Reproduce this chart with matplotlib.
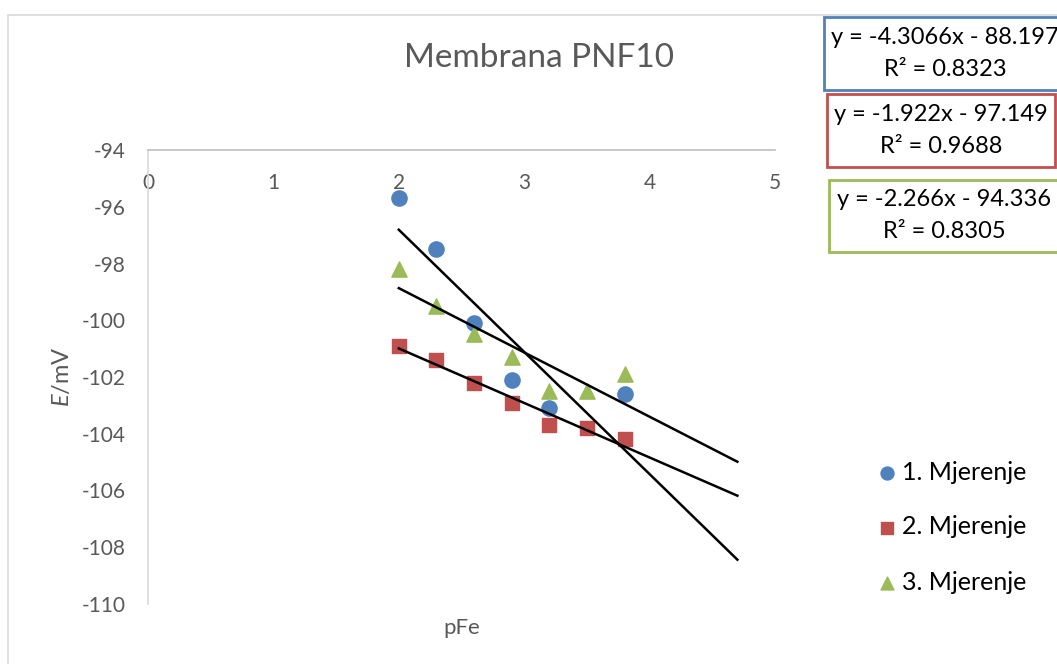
import numpy as np
import matplotlib
matplotlib.use('Agg')
import matplotlib.pyplot as plt
from matplotlib.patches import Rectangle

plt.rcParams['font.family'] = ['Lato', 'DejaVu Sans']
plt.rcParams['mathtext.fontset'] = 'custom'
plt.rcParams['mathtext.rm'] = 'Lato'
plt.rcParams['mathtext.it'] = 'Lato:italic'
plt.rcParams['axes.unicode_minus'] = False

# data
x1 = [2.0, 2.3, 2.6, 2.9, 3.2, 3.8]
y1 = [-95.7, -97.5, -100.1, -102.1, -103.1, -102.6]
x2 = [2.0, 2.3, 2.6, 2.9, 3.2, 3.5, 3.8]
y2 = [-100.9, -101.4, -102.2, -102.9, -103.7, -103.8, -104.2]
x3 = [2.0, 2.3, 2.6, 2.9, 3.2, 3.5, 3.8]
y3 = [-98.2, -99.5, -100.5, -101.3, -102.5, -102.5, -101.9]

labels = ['1. Mjerenje', '2. Mjerenje', '3. Mjerenje']
slopes = [-4.3066, -1.922, -2.266]
intercepts = [-88.197, -97.149, -94.336]
r2 = ['0.8323', '0.9688', '0.8305']
trend_x = [2.0, 4.7]

blue = '#4F81BD'
red = '#C0504D'
green = '#9BBB59'
grey_text = '#595959'
axis_grey = '#BFBFBF'

fig = plt.figure(figsize=(10.57, 6.64), dpi=100)
ax = fig.add_axes([148 / 1057, 60 / 664, 627 / 1057, 454 / 664])

ax.scatter(x1, y1, s=120, marker='o', color=blue, label=labels[0], zorder=3)
ax.scatter(x2, y2, s=115, marker='s', color=red, label=labels[1], zorder=3)
ax.scatter(x3, y3, s=120, marker='^', color=green, label=labels[2], zorder=4)

# linear trendlines (forecast forward to 4.7)
tx = np.array(trend_x)
for k, b in zip(slopes, intercepts):
    ax.plot(tx, k * tx + b, color='black', lw=1.8, zorder=5)

ax.set_xlim(0, 5)
ax.set_ylim(-110, -94)
ax.set_xticks(range(0, 6))
ax.set_yticks(range(-110, -93, 2))

for s in ['right', 'bottom']:
    ax.spines[s].set_visible(False)
ax.spines['top'].set_color(axis_grey)
ax.spines['left'].set_color('#D9D9D9')
ax.spines['top'].set_linewidth(1.2)
ax.spines['left'].set_linewidth(1.2)

ax.xaxis.set_ticks_position('top')
ax.tick_params(axis='x', length=0, labeltop=True, labelbottom=False, pad=-31,
               labelsize=15, labelcolor=grey_text)
ax.tick_params(axis='y', length=0, pad=16, labelsize=15, labelcolor=grey_text)

# title sits centred on the whole chart area, not on the plot
fig.text(539 / 1057, 1 - 58 / 664, 'Membrana PNF10', ha='center', va='center',
         fontsize=24, color=grey_text)
ax.set_ylabel(r'$\it{E}$/mV', fontsize=17, color=grey_text, labelpad=6)
ax.set_xlabel('pFe', fontsize=16, color=grey_text, labelpad=10)

leg = ax.legend(loc='upper left', bbox_to_anchor=(856 / 1057, 1 - 438 / 664),
                bbox_transform=fig.transFigure, frameon=False, fontsize=18,
                handlelength=0.7, handletextpad=0.25, labelspacing=1.28,
                markerscale=0.85)

# outer chart border
fig.add_artist(Rectangle((8 / 1057, -0.05), 1.1, 1 - 15 / 664 + 0.05,
                         transform=fig.transFigure, fill=False,
                         edgecolor='#D9D9D9', lw=1.2))

# equation boxes
boxes = [(824, 17, 90, blue, 945), (827, 94, 167, red, 941), (829, 180, 252, green, 944)]
for (left, top, bottom, col, cx), k, b, r in zip(boxes, slopes, intercepts, r2):
    right = 1055 if col == red else 1100
    fig.add_artist(Rectangle((left / 1057, 1 - bottom / 664), (right - left) / 1057,
                             (bottom - top) / 664, transform=fig.transFigure,
                             facecolor='white', edgecolor=col, lw=2, zorder=6))
    mid = (top + bottom) / 2
    fig.text(cx / 1057, 1 - (mid - 16) / 664, f'y = {k}x - {abs(b)}', ha='center',
             va='center', fontsize=17, color='black', zorder=7)
    fig.text(cx / 1057, 1 - (mid + 16) / 664, f'R² = {r}', ha='center',
             va='center', fontsize=17, color='black', zorder=7)

fig.savefig('out.png', dpi=100)
